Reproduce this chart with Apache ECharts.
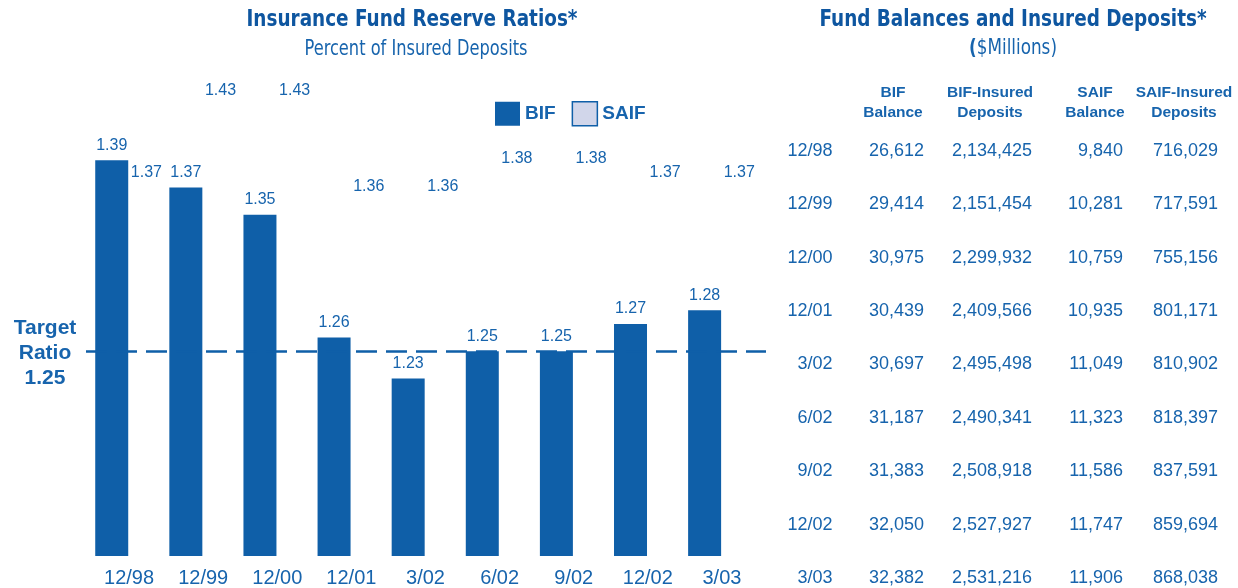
<!DOCTYPE html>
<html>
<head>
<meta charset="utf-8">
<script src="https://cdn.jsdelivr.net/npm/echarts@6/dist/echarts.min.js"></script>
<style>
  html, body { margin: 0; padding: 0; background: #fff; }
  #main { width: 1238px; height: 588px; }
</style>
</head>
<body>
<div id="main"></div>
<script>
// periods (shared by bars and table rows)
const periods = ["12/98", "12/99", "12/00", "12/01", "3/02", "6/02", "9/02", "12/02", "3/03"];

// reserve ratios, percent of insured deposits
const bifRatio = [1.39, 1.37, 1.35, 1.26, 1.23, 1.25, 1.25, 1.27, 1.28];
const saifRatio = [1.37, 1.43, 1.43, 1.36, 1.36, 1.38, 1.38, 1.37, 1.37];
const targetRatio = 1.25;

// table, $ millions
const tableHeaders = ["BIF\nBalance", "BIF-Insured\nDeposits", "SAIF\nBalance", "SAIF-Insured\nDeposits"];
const bifBalance = [26612, 29414, 30975, 30439, 30697, 31187, 31383, 32050, 32382];
const bifInsured = [2134425, 2151454, 2299932, 2409566, 2495498, 2490341, 2508918, 2527927, 2531216];
const saifBalance = [9840, 10281, 10759, 10935, 11049, 11323, 11586, 11747, 11906];
const saifInsured = [716029, 717591, 755156, 801171, 810902, 818397, 837591, 859694, 868038];

const barColor = "#0f5fa8";
const textColor = "#1764ad";
const titleColor = "#0e56a0";
const sans = "Liberation Sans, Arial, sans-serif";
const narrow = "DejaVu Sans Condensed, sans-serif";

function fmt(n) {
  return String(n).replace(/\B(?=(\d{3})+(?!\d))/g, ",");
}

// squeezed text to stand in for the condensed headline face
function squeezed(text, x, y, font, fill, sx) {
  return {
    type: "text",
    x: x,
    y: y,
    scaleX: sx,
    silent: true,
    style: { text: text, x: 0, y: 0, font: font, fill: fill, align: "center", verticalAlign: "middle" },
  };
}

const tableCols = [bifBalance, bifInsured, saifBalance, saifInsured];
// right edge of each column, relative to the column centre
const colOffsets = [31, 42, 36, 34];
const headerShift = [0, 0, 16, 0];

var chartDom = document.getElementById("main");
var myChart = echarts.init(chartDom);

var tableSeries = tableCols.map((vals, k) => ({
  type: "scatter",
  xAxisIndex: 1,
  yAxisIndex: 1,
  silent: true,
  symbolSize: 1,
  itemStyle: { color: "rgba(0,0,0,0)", opacity: 1 },
  data: vals.map((v, i) => [tableHeaders[k], periods[i], v]),
  label: {
    show: true,
    position: "inside",
    align: "right",
    verticalAlign: "middle",
    offset: [colOffsets[k], 0],
    color: textColor,
    fontFamily: sans,
    fontSize: 18,
    formatter: (p) => fmt(p.value[2]),
  },
}));

var headerRich = {};
headerShift.forEach((s, i) => {
  headerRich["c" + i] = {
    color: textColor,
    fontFamily: sans,
    fontWeight: "bold",
    fontSize: 15.5,
    lineHeight: 20,
    padding: [0, 0, 0, s],
  };
});

var ratioLabel = {
  show: true,
  position: "top",
  distance: 7,
  color: textColor,
  fontFamily: sans,
  fontSize: 16,
  formatter: (p) => p.value.toFixed(2),
};

var option = {
  animation: false,
  legend: {
    left: 495,
    top: 101,
    padding: 0,
    itemWidth: 25,
    itemHeight: 24,
    itemGap: 16,
    icon: "rect",
    textStyle: { color: textColor, fontFamily: sans, fontWeight: "bold", fontSize: 19 },
    data: [
      { name: "BIF", itemStyle: { color: barColor } },
      { name: "SAIF", itemStyle: { color: "#d1d6ea", borderColor: barColor, borderWidth: 1.5 } },
    ],
  },
  grid: [
    { left: 92, width: 667, top: 10, bottom: 32 },
    { left: 844.5, width: 388, top: 151, bottom: 10 },
  ],
  xAxis: [
    {
      type: "category",
      gridIndex: 0,
      data: periods,
      axisLine: { show: false },
      axisTick: { show: false },
      axisLabel: { color: textColor, fontFamily: sans, fontSize: 20, margin: 12 },
    },
    {
      type: "category",
      gridIndex: 1,
      position: "top",
      data: tableHeaders,
      axisLine: { show: false },
      axisTick: { show: false },
      splitLine: { show: false },
      axisLabel: {
        margin: 28,
        interval: 0,
        formatter: (v, i) => v.split("\n").map((l) => "{c" + i + "|" + l + "}").join("\n"),
        rich: headerRich,
      },
    },
  ],
  yAxis: [
    { type: "value", gridIndex: 0, min: 1.1, max: 1.5, show: false },
    {
      type: "category",
      gridIndex: 1,
      inverse: true,
      boundaryGap: false,
      data: periods,
      axisLine: { show: false },
      axisTick: { show: false },
      splitLine: { show: false },
      axisLabel: { color: textColor, fontFamily: sans, fontSize: 18, margin: 12, interval: 0 },
    },
  ],
  graphic: [
    squeezed("Insurance Fund Reserve Ratios*", 412, 20, "bold 23px " + narrow, titleColor, 0.89),
    squeezed("Percent of Insured Deposits", 416, 49, "22px " + narrow, textColor, 0.82),
    squeezed("Fund Balances and Insured Deposits*", 1013, 20, "bold 23px " + narrow, titleColor, 0.89),
    {
      type: "text",
      x: 1013,
      y: 48,
      scaleX: 0.85,
      silent: true,
      style: {
        text: "{b|(}$Millions)",
        x: 0,
        y: 0,
        font: "22px " + narrow,
        fill: textColor,
        align: "center",
        verticalAlign: "middle",
        rich: { b: { font: "bold 22px " + narrow, fill: textColor } },
      },
    },
    {
      type: "text",
      x: 45,
      y: 353,
      silent: true,
      style: {
        text: "Target\nRatio\n1.25",
        x: 0,
        y: 0,
        fill: textColor,
        font: "bold 21px " + sans,
        lineHeight: 25,
        align: "center",
        verticalAlign: "middle",
      },
    },
  ],
  series: [
    {
      name: "BIF",
      type: "bar",
      data: bifRatio,
      barWidth: 33,
      barGap: "5%",
      itemStyle: { color: barColor },
      label: ratioLabel,
      markLine: {
        silent: true,
        symbol: "none",
        label: { show: false },
        lineStyle: { color: barColor, width: 2.5, type: [21, 9] },
        // line runs a little past the plot on both sides
        data: [[{ x: 86, yAxis: targetRatio }, { x: 766, yAxis: targetRatio }]],
      },
    },
    {
      name: "SAIF",
      type: "bar",
      data: saifRatio,
      barWidth: 33,
      itemStyle: { color: "rgba(0,0,0,0)" },
      label: ratioLabel,
    },
  ].concat(tableSeries),
};

option && myChart.setOption(option);
</script>
</body>
</html>
